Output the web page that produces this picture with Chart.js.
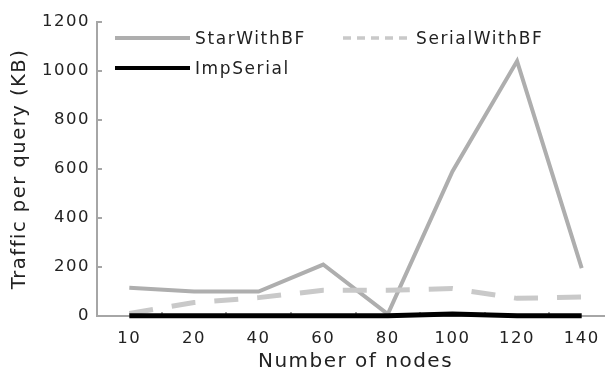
<!DOCTYPE html>
<html><head><meta charset="utf-8">
<script src="https://cdn.jsdelivr.net/npm/chart.js@4.4.0/dist/chart.umd.min.js"></script>
<style>
html,body{margin:0;padding:0;background:#fff;overflow:hidden;}
#wrap{position:relative;width:620px;height:377px;}
#legend{position:absolute;left:0;top:0;width:620px;height:377px;pointer-events:none;font-family:'DejaVu Sans';font-size:17px;letter-spacing:1.6px;color:#222;}
.item{position:absolute;display:flex;align-items:center;height:22px;transform:translateY(-50%);white-space:nowrap;}
.item svg{margin-right:5px;display:block;}
</style></head><body>
<div id="wrap"><canvas id="c" width="620" height="377"></canvas><div id="legend"></div></div>
<script>
const categories = ['10', '20', '40', '60', '80', '100', '120', '140'];
const starWithBF = [115, 100, 100, 210, 8, 590, 1040, 195];
const serialWithBF = [10, 55, 75, 105, 105, 112, 72, 78];
const impSerial = [1, 1, 1, 1, 1, 8, 1, 1];
const seriesNames = ['StarWithBF', 'SerialWithBF', 'ImpSerial'];
const yMin = 0, yMax = 1200, yStep = 200;
const xTitle = 'Number of nodes';
const yTitle = 'Traffic per query (KB)';

const TEXT = '#222';
const AXIS = '#a6a6a6';
const SPACING = '1.5px';

const spacingPlugin = {
  id: 'spacing',
  beforeLayout(chart) { chart.ctx.letterSpacing = SPACING; },
  beforeDraw(chart) { chart.ctx.letterSpacing = SPACING; }
};

const chart = new Chart(document.getElementById('c'), {
  type: 'line',
  data: {
    labels: categories,
    datasets: [
      { label: seriesNames[0], data: starWithBF, borderColor: '#aeaeae', borderWidth: 4, order: 2 },
      { label: seriesNames[1], data: serialWithBF, borderColor: '#c9c9c9', borderWidth: 5, borderDash: [24, 19], order: 1 },
      { label: seriesNames[2], data: impSerial, borderColor: '#000000', borderWidth: 5, order: 0 }
    ].map(d => Object.assign(d, { pointRadius: 0, pointHoverRadius: 0, tension: 0, fill: false, clip: false, borderCapStyle: 'butt', borderJoinStyle: 'miter' }))
  },
  options: {
    responsive: false,
    animation: false,
    devicePixelRatio: 1,
    layout: { padding: { top: 16, right: 6, bottom: 0, left: 0 } },
    plugins: { legend: { display: false }, tooltip: { enabled: false } },
    scales: {
      x: {
        type: 'category',
        offset: true,
        grid: { display: true, offset: true, drawOnChartArea: false, drawTicks: true, tickLength: -4, color: AXIS, lineWidth: 2 },
        border: { display: true, color: AXIS, width: 2 },
        ticks: { color: TEXT, font: { family: 'DejaVu Sans', size: 16.5 }, padding: 17, maxRotation: 0, autoSkip: false },
        title: { display: true, text: xTitle, color: TEXT, font: { family: 'DejaVu Sans', size: 20 }, padding: { top: 0, bottom: 3 } },
        afterFit(scale) { scale.height = 61; }
      },
      y: {
        min: yMin, max: yMax,
        grid: { display: true, drawOnChartArea: false, drawTicks: true, tickLength: -5, color: AXIS, lineWidth: 2 },
        border: { display: true, color: AXIS, width: 2 },
        ticks: { stepSize: yStep, color: TEXT, font: { family: 'DejaVu Sans', size: 16.5 }, padding: 12, callback: v => String(v) },
        title: { display: true, text: yTitle, color: TEXT, font: { family: 'DejaVu Sans', size: 19.5 }, padding: { top: 8, bottom: 0 } },
        afterFit(scale) { scale.width = 97; }
      }
    }
  },
  plugins: [spacingPlugin]
});

// HTML legend built from the chart's datasets
const legendPlaces = [[115, 38, 75], [343, 38, 68], [115, 68, 75]];
const legendDash = ['', '8 6', ''];
const legendWidth = [4, 3.5, 4];
const legendEl = document.getElementById('legend');
chart.data.datasets.forEach((ds, i) => {
  const [lx, ly, w] = legendPlaces[i];
  const item = document.createElement('div');
  item.className = 'item';
  item.style.left = lx + 'px';
  item.style.top = ly + 'px';
  const ns = 'http://www.w3.org/2000/svg';
  const svg = document.createElementNS(ns, 'svg');
  svg.setAttribute('width', w);
  svg.setAttribute('height', 10);
  const ln = document.createElementNS(ns, 'line');
  ln.setAttribute('x1', 0); ln.setAttribute('x2', w);
  ln.setAttribute('y1', 5); ln.setAttribute('y2', 5);
  ln.setAttribute('stroke', ds.borderColor);
  ln.setAttribute('stroke-width', legendWidth[i]);
  if (legendDash[i]) ln.setAttribute('stroke-dasharray', legendDash[i]);
  svg.appendChild(ln);
  const span = document.createElement('span');
  span.textContent = ds.label;
  item.appendChild(svg);
  item.appendChild(span);
  legendEl.appendChild(item);
});
</script>
</body></html>
